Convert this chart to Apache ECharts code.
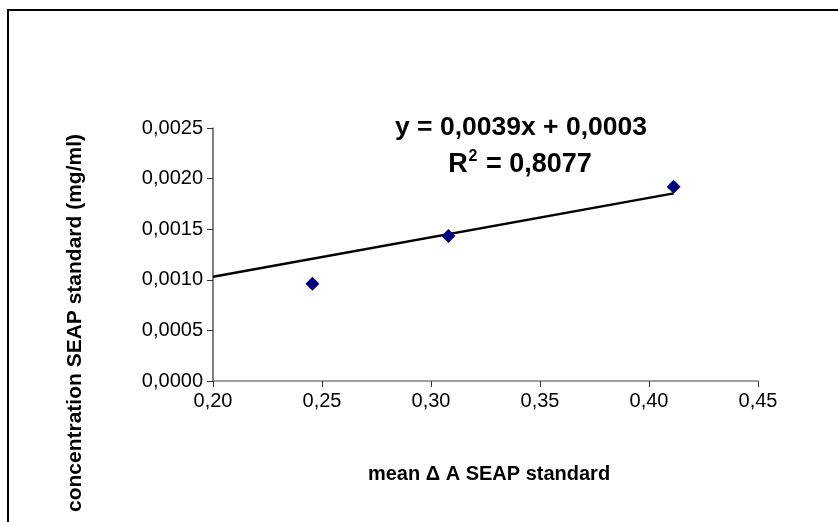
<!DOCTYPE html>
<html>
<head>
<meta charset="utf-8">
<script src="https://cdn.jsdelivr.net/npm/echarts@6/dist/echarts.min.js"></script>
<style>
html,body{margin:0;padding:0;background:#fff;}
#chart{width:838px;height:522px;}
</style>
</head>
<body>
<div id="chart"></div>
<script>
// Data
const meanDeltaA = [0.2456, 0.3080, 0.4113];
const concentration = [0.00096, 0.001434, 0.001919];
const trendX = [0.20, 0.4113];
const trendY = [0.00103, 0.001854];
const xTickValues = [0.20, 0.25, 0.30, 0.35, 0.40, 0.45];
const xTickLabels = ['0,20', '0,25', '0,30', '0,35', '0,40', '0,45'];
const yTickValues = [0, 0.0005, 0.0010, 0.0015, 0.0020, 0.0025];
const yTickLabels = ['0,0000', '0,0005', '0,0010', '0,0015', '0,0020', '0,0025'];
const equationText = 'y = 0,0039x + 0,0003';
const r2Value = '0,8077';
const xTitle = 'mean \u0394 A SEAP standard';
const yTitle = 'concentration SEAP standard (mg/ml)';

function lookup(values, labels, v) {
  for (let i = 0; i < values.length; i++) {
    if (Math.abs(values[i] - v) < 1e-9) return labels[i];
  }
  return '';
}

const FONT = '"Liberation Sans", Arial, sans-serif';
const chart = echarts.init(document.getElementById('chart'));
const option = {
  backgroundColor: '#ffffff',
  animation: false,
  grid: { left: 213, top: 128, width: 545, height: 253, containLabel: false },
  xAxis: {
    type: 'value', min: 0.20, max: 0.45, interval: 0.05,
    axisLine: { show: true, onZero: false, lineStyle: { color: '#808080', width: 1.5 } },
    axisTick: { show: true, inside: false, length: 6, lineStyle: { color: '#333', width: 1 } },
    splitLine: { show: false },
    axisLabel: {
      margin: 10, color: '#000', fontFamily: FONT, fontSize: 20,
      formatter: v => lookup(xTickValues, xTickLabels, v)
    }
  },
  yAxis: {
    type: 'value', min: 0, max: 0.0025, interval: 0.0005,
    axisLine: { show: true, lineStyle: { color: '#555', width: 1.5 } },
    axisTick: { show: true, inside: false, length: 6, lineStyle: { color: '#333', width: 1 } },
    splitLine: { show: false },
    axisLabel: {
      margin: 10, color: '#000', fontFamily: FONT, fontSize: 20,
      formatter: v => lookup(yTickValues, yTickLabels, v)
    }
  },
  series: [
    {
      type: 'line',
      data: trendX.map((x, i) => [x, trendY[i]]),
      showSymbol: false, symbol: 'none',
      lineStyle: { color: '#000', width: 2.5 },
      z: 2
    },
    {
      type: 'scatter',
      data: meanDeltaA.map((x, i) => [x, concentration[i]]),
      symbol: 'diamond', symbolSize: 14,
      itemStyle: { color: '#000080', opacity: 1 },
      z: 3
    }
  ],
  graphic: [
    {
      type: 'rect', z: 100, silent: true,
      shape: { x: 8, y: 10, width: 1000, height: 1000 },
      style: { fill: 'none', stroke: '#000', lineWidth: 2 }
    },
    {
      type: 'text', z: 100,
      x: 521, y: 128,
      style: { text: equationText, fill: '#000', font: 'bold 26.5px ' + FONT, textAlign: 'center', textVerticalAlign: 'middle' }
    },
    {
      type: 'text', z: 100,
      x: 520, y: 165,
      style: {
        text: '{a|R}{s|2}{a| = ' + r2Value + '}',
        textAlign: 'center', textVerticalAlign: 'middle',
        rich: {
          a: { font: 'bold 27px ' + FONT, fill: '#000', lineHeight: 32 },
          s: { font: 'bold 16px ' + FONT, fill: '#000', verticalAlign: 'top', lineHeight: 32, padding: [0, 1, 0, 1] }
        }
      }
    },
    {
      type: 'text', z: 100,
      x: 489, y: 474,
      style: { text: xTitle, fill: '#000', font: 'bold 20px ' + FONT, textAlign: 'center', textVerticalAlign: 'middle' }
    },
    {
      type: 'text', z: 100,
      x: 75, y: 323, rotation: Math.PI / 2,
      style: { text: yTitle, fill: '#000', font: 'bold 21px ' + FONT, textAlign: 'center', textVerticalAlign: 'middle' }
    }
  ]
};
chart.setOption(option);
</script>
</body>
</html>
